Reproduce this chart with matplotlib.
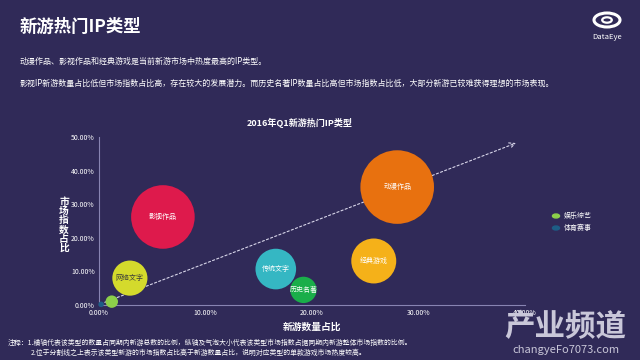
import matplotlib.pyplot as plt
from matplotlib.patches import Ellipse, Circle
from matplotlib.ticker import FuncFormatter

plt.rcParams['font.family'] = ['Noto Sans CJK SC', 'DejaVu Sans']

# bubble data: x = 新游数量占比 (%), y = 市场指数占比 (%)
names = ["影视作品", "网络文字", "传统文字", "历史名著", "动漫作品", "经典游戏", "娱乐综艺", "体育赛事"]
x_share = [6.0, 2.9, 16.6, 19.2, 28.0, 25.8, 1.2, 0.2]
y_share = [26.2, 8.0, 10.7, 4.5, 35.1, 13.1, 1.0, 0.2]
colors = ["#de1a4c", "#d4da2c", "#35b7c3", "#1aae4a", "#e8710f", "#f5b119", "#8ccf4a", "#1d5d86"]
text_colors = ["white", "#3a3a3a", "white", "white", "white", "white", None, None]
legend_names = ["娱乐综艺", "体育赛事"]

bg = "#302a58"
axis_col = "#8884b2"

fig = plt.figure(figsize=(6.4, 3.6), dpi=100, facecolor=bg)
ax = fig.add_axes([99 / 640, 1 - 305 / 360, 426 / 640, 168 / 360])
ax.set_facecolor(bg)
ax.set_xlim(0, 40)
ax.set_ylim(0, 50)

# bubble area proportional to market index share
sizes = [80 * v for v in y_share]
ax.scatter(x_share, y_share, s=sizes, c=colors, linewidths=0, zorder=3, clip_on=False)
for n, xv, yv, tc in zip(names, x_share, y_share, text_colors):
    if tc:
        ax.text(xv, yv, n, color=tc, fontsize=5, ha="center", va="center", zorder=4)

# dividing line
ax.annotate("", xy=(39.4, 48.5), xytext=(0.3, 0.5),
            arrowprops=dict(arrowstyle="->", color="#d8d6ea", lw=0.8, ls=(0, (2, 2))),
            zorder=2)

for s in ["top", "right"]:
    ax.spines[s].set_visible(False)
for s in ["left", "bottom"]:
    ax.spines[s].set_color(axis_col)
    ax.spines[s].set_linewidth(0.8)
ax.set_xticks([0, 10, 20, 30, 40])
ax.set_yticks([0, 10, 20, 30, 40, 50])
fmt = FuncFormatter(lambda v, p: f"{v:.2f}%")
ax.xaxis.set_major_formatter(fmt)
ax.yaxis.set_major_formatter(fmt)
ax.tick_params(length=0, colors="white", labelsize=5, pad=3)

ax.set_xlabel("新游数量占比", color="white", fontsize=7, fontweight="bold", labelpad=3)
fig.text(64 / 640, 1 - 225 / 360, "\n".join("市场指数占比"), color="white", fontsize=7,
         fontweight="bold", ha="center", va="center", linespacing=0.9)
fig.text(300 / 640, 1 - 123 / 360, "2016年Q1新游热门IP类型", color="white", fontsize=6.5,
         fontweight="bold", ha="center", va="center")

# legend
for i, n in enumerate(legend_names):
    yy = 1 - (216 + 12 * i) / 360
    fig.patches.append(Circle((556 / 640, yy), 0.0055, transform=fig.transFigure,
                              color=colors[6 + i]))
    fig.text(564 / 640, yy, n, color="white", fontsize=5, va="center")

# header
fig.text(20 / 640, 1 - 27 / 360, "新游热门IP类型", color="white", fontsize=12.5,
         fontweight="bold", va="center")
fig.text(20 / 640, 1 - 61 / 360, "动漫作品、影视作品和经典游戏是当前新游市场中热度最高的IP类型。",
         color="white", fontsize=5.75, va="center")
fig.text(20 / 640, 1 - 83 / 360,
         "影视IP新游数量占比低但市场指数占比高，存在较大的发展潜力。而历史名著IP数量占比高但市场指数占比低，大部分新游已较难获得理想的市场表现。",
         color="white", fontsize=5.75, va="center")

# logo
fig.patches.append(Ellipse((607 / 640, 1 - 20 / 360), 26 / 640, 14 / 360, transform=fig.transFigure,
                           fill=False, ec="white", lw=2.2))
fig.patches.append(Circle((607 / 640, 1 - 20 / 360), 0.0075, transform=fig.transFigure,
                          fill=False, ec="white", lw=1.6))
fig.text(607 / 640, 1 - 37 / 360, "DataEye", color="white", fontsize=5.5, ha="center", va="center")

# notes
fig.text(8 / 640, 1 - 343 / 360,
         "注释：1.横轴代表该类型的数量占同期内新游总数的比例，纵轴及气泡大小代表该类型市场指数占据同期内新游整体市场指数的比例。",
         color="white", fontsize=4.95, va="center")
fig.text(31 / 640, 1 - 353 / 360,
         "2.位于分割线之上表示该类型新游的市场指数占比高于新游数量占比，说明对应类型的单款游戏市场热度较高。",
         color="white", fontsize=4.95, va="center")

# site watermark
fig.text(565 / 640, 1 - 327 / 360, "产业频道", color="#c9c7d9", fontsize=22,
         fontweight="bold", ha="center", va="center", zorder=0)
fig.text(566 / 640, 1 - 350 / 360, "changyeFo7073.com", color="#c9c7d9", fontsize=8,
         ha="center", va="center", zorder=0)

fig.savefig("out.png", dpi=100, facecolor=bg)
